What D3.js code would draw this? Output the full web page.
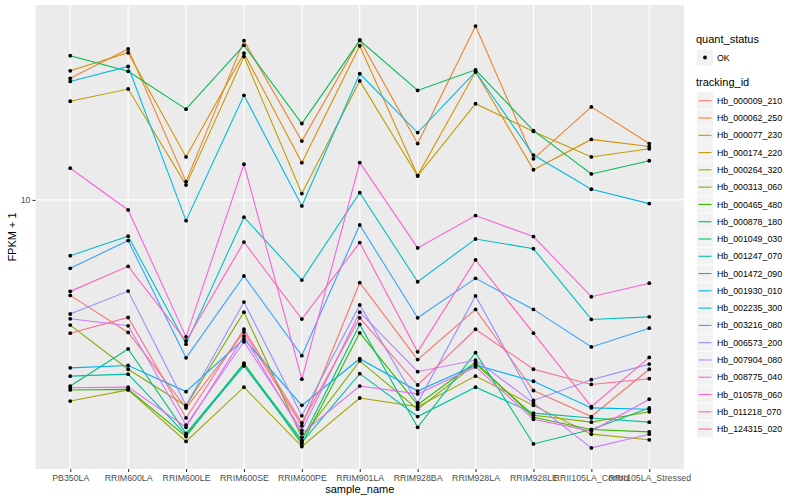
<!DOCTYPE html>
<html>
<head>
<meta charset="utf-8">
<script src="https://cdn.jsdelivr.net/npm/d3@7/dist/d3.min.js"></script>
<style>
  html, body { margin: 0; padding: 0; background: #fff; }
  svg { display: block; font-family: "Liberation Sans", Arial, Helvetica, sans-serif; }
</style>
</head>
<body>
<svg id="chart" width="800" height="500"></svg>
<script>
// ---------- data ----------
const samples = ["PB350LA","RRIM600LA","RRIM600LE","RRIM600SE","RRIM600PE","RRIM901LA",
  "RRIM928BA","RRIM928LA","RRIM928LE","RRII105LA_Control","RRII105LA_Stressed"];

const trackingIds = ["Hb_000009_210","Hb_000062_250","Hb_000077_230","Hb_000174_220","Hb_000264_320",
  "Hb_000313_060","Hb_000465_480","Hb_000878_180","Hb_001049_030","Hb_001247_070","Hb_001472_090",
  "Hb_001930_010","Hb_002235_300","Hb_003216_080","Hb_006573_200","Hb_007904_080","Hb_008775_040",
  "Hb_010578_060","Hb_011218_070","Hb_124315_020"];

const trackingColors = ["#F8766D","#EA8331","#D89000","#C09B00","#A3A500","#7CAE00","#39B600","#00BB4E",
  "#00BF7D","#00C1A3","#00BFC4","#00BAE0","#00B0F6","#35A2FF","#9590FF","#C77CFF","#E76BF3",
  "#FA62DB","#FF62BC","#FF6C91"];

// FPKM + 1 values, one per sample (same order as samples)
const hb000009_210 = [4.81, 3.62, 2.03, 3.63, 1.77, 5.30, 2.94, 4.32, 2.32, 1.90, 2.73];
const hb000062_250 = [25.4, 31.8, 11.5, 33.9, 15.7, 34.1, 15.4, 37.9, 13.7, 20.4, 15.4];
const hb000077_230 = [26.9, 30.9, 13.9, 30.8, 13.3, 32.6, 12.05, 26.7, 12.6, 15.9, 15.05];
const hb000174_220 = [21.3, 23.4, 11.2, 30.0, 10.5, 24.9, 12.0, 20.9, 16.9, 13.9, 14.8];
const hb000264_320 = [2.14, 2.33, 1.57, 2.38, 1.51, 2.19, 2.05, 2.59, 2.07, 1.66, 1.59];
const hb000313_060 = [3.83, 2.73, 2.06, 4.23, 1.62, 2.91, 2.01, 2.84, 1.92, 1.82, 1.97];
const hb000465_480 = [2.33, 2.34, 1.63, 2.86, 1.54, 3.61, 2.08, 2.88, 1.89, 1.72, 1.69];
const hb000878_180 = [30.2, 26.8, 20.05, 32.7, 17.96, 33.96, 23.14, 27.1, 17.0, 12.2, 13.5];
const hb001049_030 = [2.40, 3.19, 1.67, 2.84, 1.585, 3.85, 1.75, 3.10, 1.54, 1.72, 2.03];
const hb001247_070 = [2.59, 2.63, 1.65, 2.80, 1.56, 2.64, 1.90, 2.38, 1.95, 1.88, 1.82];
const hb001472_090 = [6.52, 7.57, 3.31, 8.76, 5.41, 10.57, 5.34, 7.41, 6.88, 4.00, 4.08];
const hb001930_010 = [24.8, 27.8, 8.53, 22.3, 9.55, 26.3, 16.76, 26.7, 14.1, 10.85, 9.72];
const hb002235_300 = [2.76, 2.81, 2.30, 3.44, 2.07, 2.96, 2.31, 2.82, 2.49, 2.03, 2.01];
const hb003216_080 = [5.92, 7.32, 2.98, 5.58, 3.03, 8.25, 4.05, 5.48, 4.32, 3.24, 3.74];
const hb006573_200 = [4.17, 4.97, 2.07, 4.57, 1.91, 4.47, 2.11, 4.79, 2.15, 2.52, 2.84];
const hb007904_080 = [4.02, 3.81, 1.78, 3.37, 1.71, 4.23, 2.68, 2.93, 2.11, 1.494, 1.66];
const hb008775_040 = [2.37, 2.38, 1.75, 3.52, 1.67, 2.40, 2.26, 2.78, 1.86, 1.70, 2.17];
const hb010578_060 = [12.75, 9.26, 3.50, 13.15, 2.53, 13.31, 6.92, 8.87, 7.55, 4.76, 5.28];
const hb011218_070 = [4.96, 6.01, 3.39, 7.24, 4.01, 7.21, 3.12, 6.31, 3.60, 2.05, 2.99];
const hb124315_020 = [3.60, 4.06, 1.88, 3.71, 1.81, 4.05, 2.42, 3.71, 2.73, 2.43, 2.54];

const yTicks = [10];
const quantLevels = ["OK"];

const seriesValues = [hb000009_210, hb000062_250, hb000077_230, hb000174_220, hb000264_320,
  hb000313_060, hb000465_480, hb000878_180, hb001049_030, hb001247_070, hb001472_090,
  hb001930_010, hb002235_300, hb003216_080, hb006573_200, hb007904_080, hb008775_040,
  hb010578_060, hb011218_070, hb124315_020];

const series = trackingIds.map((id, i) => ({
  id, color: trackingColors[i],
  values: samples.map((s, j) => ({ sample: s, value: seriesValues[i][j] }))
}));

// ---------- layout ----------
const svg = d3.select("#chart");
const panel = { left: 35.5, right: 684, top: 5, bottom: 469 };

const x = d3.scalePoint().domain(samples).range([panel.left, panel.right]).padding(0.6);

const allVals = seriesValues.flat();
const lmin = Math.log10(d3.min(allVals)), lmax = Math.log10(d3.max(allVals));
const pad = 0.05 * (lmax - lmin);
const y = d3.scaleLog().domain([Math.pow(10, lmin - pad), Math.pow(10, lmax + pad)])
  .range([panel.bottom, panel.top]);

// panel background
svg.append("rect").attr("x", panel.left).attr("y", panel.top)
  .attr("width", panel.right - panel.left).attr("height", panel.bottom - panel.top)
  .attr("fill", "#EBEBEB");

// gridlines
const grid = svg.append("g");
grid.selectAll(".vg").data(samples).enter().append("line")
  .attr("x1", d => x(d)).attr("x2", d => x(d))
  .attr("y1", panel.top).attr("y2", panel.bottom)
  .attr("stroke", "#fff").attr("stroke-width", 1.07);
grid.selectAll(".hg").data(yTicks).enter().append("line")
  .attr("x1", panel.left).attr("x2", panel.right)
  .attr("y1", d => y(d)).attr("y2", d => y(d))
  .attr("stroke", "#fff").attr("stroke-width", 1.07);

// lines
const line = d3.line().x(d => x(d.sample)).y(d => y(d.value));
svg.append("g").selectAll("path").data(series).enter().append("path")
  .attr("d", d => line(d.values))
  .attr("fill", "none").attr("stroke", d => d.color).attr("stroke-width", 1.1);

// points
svg.append("g").selectAll("g").data(series).enter().append("g")
  .selectAll("circle").data(d => d.values).enter().append("circle")
  .attr("cx", d => x(d.sample)).attr("cy", d => y(d.value)).attr("r", 1.9)
  .attr("fill", "#000");

// axes
const xAxis = svg.append("g").attr("transform", `translate(0,${panel.bottom})`)
  .call(d3.axisBottom(x).tickSize(3).tickSizeOuter(0));
xAxis.select(".domain").remove();
xAxis.selectAll(".tick line").attr("stroke", "#333333").attr("stroke-width", 1.07);
xAxis.selectAll(".tick text").attr("fill", "#4D4D4D").attr("font-size", "8.8px").attr("dy", "0.71em").attr("y", 5.5);

const yAxis = svg.append("g").attr("transform", `translate(${panel.left},0)`)
  .call(d3.axisLeft(y).tickValues(yTicks).tickFormat(d3.format("d")).tickSize(3).tickSizeOuter(0));
yAxis.select(".domain").remove();
yAxis.selectAll(".tick line").attr("stroke", "#333333").attr("stroke-width", 1.07);
yAxis.selectAll(".tick text").attr("fill", "#4D4D4D").attr("font-size", "8.8px").attr("x", -5);

// axis titles
svg.append("text").attr("x", (panel.left + panel.right) / 2).attr("y", 493)
  .attr("text-anchor", "middle").attr("font-size", "11px").attr("fill", "#000").text("sample_name");
svg.append("text").attr("transform", `translate(16,${(panel.top + panel.bottom) / 2}) rotate(-90)`)
  .attr("text-anchor", "middle").attr("font-size", "11px").attr("fill", "#000").text("FPKM + 1");

// legends
const lg = svg.append("g").attr("transform", "translate(697,0)");
lg.append("text").attr("x", -1).attr("y", 44.5).attr("dy", "-0.1em").attr("font-size", "11px").attr("fill", "#000").text("quant_status");
const qk = lg.selectAll(".qk").data(quantLevels).enter().append("g")
  .attr("transform", (d, i) => `translate(0,${49.5 + i * 17.3})`);
qk.append("rect").attr("width", 16).attr("height", 16).attr("fill", "#F2F2F2");
qk.append("circle").attr("cx", 8).attr("cy", 8).attr("r", 1.9).attr("fill", "#000");
qk.append("text").attr("x", 20).attr("y", 8).attr("dy", "0.35em").attr("font-size", "8.8px").attr("fill", "#000").text(d => d);

lg.append("text").attr("x", -1).attr("y", 87.5).attr("dy", "-0.1em").attr("font-size", "11px").attr("fill", "#000").text("tracking_id");
const tk = lg.selectAll(".tk").data(series).enter().append("g")
  .attr("transform", (d, i) => `translate(0,${92.5 + i * 17.28})`);
tk.append("rect").attr("width", 16).attr("height", 16.5).attr("fill", "#F2F2F2");
tk.append("line").attr("x1", 1.5).attr("x2", 14.5).attr("y1", 8.25).attr("y2", 8.25)
  .attr("stroke", d => d.color).attr("stroke-width", 1.1);
tk.append("text").attr("x", 20).attr("y", 8.25).attr("dy", "0.35em").attr("font-size", "8.8px").attr("fill", "#000").text(d => d.id);
</script>
</body>
</html>
